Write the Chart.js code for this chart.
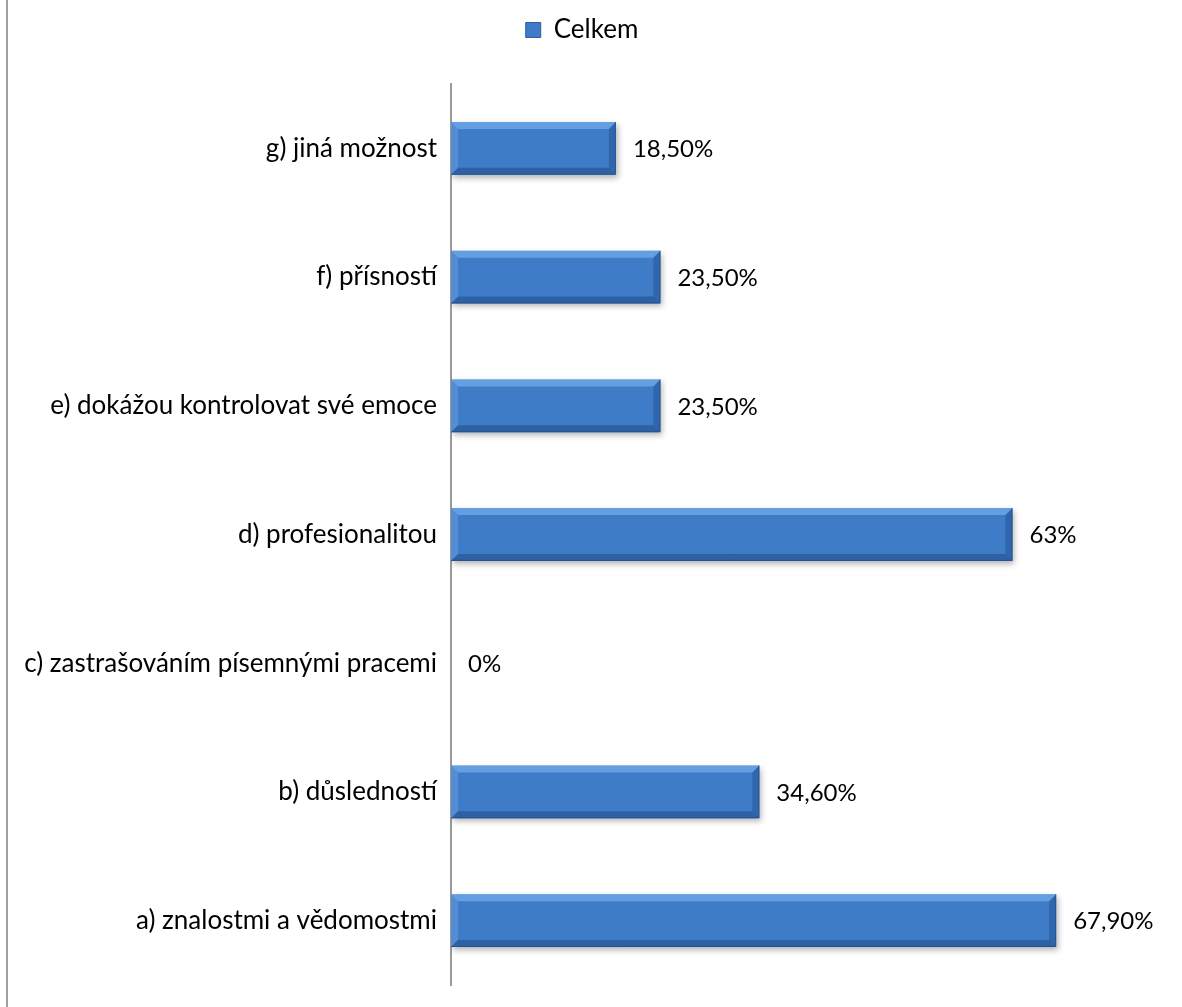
<!DOCTYPE html>
<html>
<head>
<meta charset="utf-8">
<script src="https://cdn.jsdelivr.net/npm/chart.js@4.4.0/dist/chart.umd.min.js"></script>
<style>
  html, body { margin: 0; padding: 0; background: #fff; }
  #wrap { position: relative; width: 1182px; height: 1007px; }
  #wrap::before {
    content: ''; position: absolute; left: 6px; top: 0; bottom: 0;
    width: 2px; background: #a0a0a0;
  }
</style>
</head>
<body>
<div id="wrap"><canvas id="chart" width="1182" height="1007"></canvas></div>
<script>
const categories = [
    'a) znalostmi a vědomostmi',
    'b) důsledností',
    'c) zastrašováním písemnými pracemi',
    'd) profesionalitou',
    'e) dokážou kontrolovat své emoce',
    'f) přísností',
    'g) jiná možnost'
];
const celkem = [67.9, 34.6, 0, 63, 23.5, 23.5, 18.5];
const seriesName = 'Celkem';

const fontFamily = 'Lato, "Open Sans", sans-serif';

function pct(v) {
    return Number.isInteger(v) ? v + '%' : v.toFixed(2).replace('.', ',') + '%';
}

// vertical gradient for the bar body
function barFill(context) {
    const chart = context.chart;
    const el = context.element;
    if (!el || !Number.isFinite(el.y) || !Number.isFinite(el.height)) return '#3e7cc8';
    const h = el.height;
    const g = chart.ctx.createLinearGradient(0, el.y - h / 2, 0, el.y + h / 2);
    g.addColorStop(0, '#5d98de');
    g.addColorStop(0.2, '#4686d2');
    g.addColorStop(0.65, '#3c79c6');
    g.addColorStop(1, '#3570bb');
    return g;
}

function poly(ctx, pts, fill) {
    ctx.fillStyle = fill;
    ctx.beginPath();
    ctx.moveTo(pts[0][0], pts[0][1]);
    for (let k = 1; k < pts.length; k++) ctx.lineTo(pts[k][0], pts[k][1]);
    ctx.closePath();
    ctx.fill();
}

// drop shadow under bars + bevelled edges + value labels
const bevelPlugin = {
    id: 'bevel',
    beforeInit(chart) {
        // extra room between legend and plot
        const fit = chart.legend.fit;
        chart.legend.fit = function () {
            fit.call(this);
            this.height += 31;
        };
    },
    beforeDatasetDraw(chart) {
        const ctx = chart.ctx;
        ctx.save();
        ctx.shadowColor = 'rgba(0,0,0,0.3)';
        ctx.shadowBlur = 6;
        ctx.shadowOffsetX = 2;
        ctx.shadowOffsetY = 3;
    },
    afterDatasetDraw(chart) {
        chart.ctx.restore();
    },
    afterDatasetsDraw(chart) {
        const ctx = chart.ctx;
        const meta = chart.getDatasetMeta(0);
        meta.data.forEach((bar, i) => {
            const v = celkem[i];
            const x0 = bar.base, x1 = bar.x;
            const y0 = bar.y - bar.height / 2, y1 = bar.y + bar.height / 2;
            const b = 7;
            if (x1 - x0 > 2 * b) {
                ctx.save();
                poly(ctx, [[x0, y0], [x1, y0], [x1 - b, y0 + b], [x0 + b, y0 + b]], 'rgba(135,188,245,0.55)');
                poly(ctx, [[x0, y0], [x0 + b, y0 + b], [x0 + b, y1 - b], [x0, y1]], 'rgba(120,175,238,0.35)');
                poly(ctx, [[x1, y0], [x1, y1], [x1 - b, y1 - b], [x1 - b, y0 + b]], 'rgba(30,75,135,0.45)');
                poly(ctx, [[x0, y1], [x0 + b, y1 - b], [x1 - b, y1 - b], [x1, y1]], 'rgba(25,65,120,0.45)');
                ctx.strokeStyle = 'rgba(30,70,125,0.55)';
                ctx.lineWidth = 1;
                ctx.beginPath();
                ctx.moveTo(x0, y1 - 0.5); ctx.lineTo(x1 - 0.5, y1 - 0.5); ctx.lineTo(x1 - 0.5, y0);
                ctx.stroke();
                ctx.restore();
            }
            ctx.save();
            ctx.fillStyle = '#000';
            ctx.font = '24px ' + fontFamily;
            ctx.textBaseline = 'middle';
            ctx.textAlign = 'left';
            ctx.fillText(pct(v), x1 + 17, bar.y + 1);
            ctx.restore();
        });
    }
};

const ctx = document.getElementById('chart').getContext('2d');
const chart = new Chart(ctx, {
    type: 'bar',
    data: {
        labels: categories,
        datasets: [{
            label: seriesName,
            data: celkem,
            backgroundColor: barFill,
            borderWidth: 0,
            barPercentage: 0.41,
            categoryPercentage: 1
        }]
    },
    options: {
        indexAxis: 'y',
        responsive: false,
        animation: false,
        layout: { padding: { left: 0, right: 18, top: 12, bottom: 22 } },
        scales: {
            x: {
                display: false,
                min: 0,
                max: 80
            },
            y: {
                reverse: true,
                grid: { display: false, drawTicks: false },
                border: { display: true, color: '#9a9a9a', width: 2 },
                ticks: {
                    color: '#000',
                    padding: 14,
                    font: { size: 26, family: fontFamily }
                },
                afterFit(scale) {
                    scale.width = 451;
                    scale.paddingTop = 0;
                    scale.paddingBottom = 0;
                }
            }
        },
        plugins: {
            legend: {
                position: 'top',
                labels: {
                    color: '#000',
                    font: { size: 26, family: fontFamily },
                    boxWidth: 15,
                    boxHeight: 15,
                    padding: 5,
                    generateLabels() {
                        return [{
                            text: seriesName,
                            fillStyle: '#3e7cc8',
                            strokeStyle: '#2c5f9e',
                            lineWidth: 1,
                            datasetIndex: 0
                        }];
                    }
                }
            },
            tooltip: { enabled: false }
        }
    },
    plugins: [bevelPlugin]
});
</script>
</body>
</html>
